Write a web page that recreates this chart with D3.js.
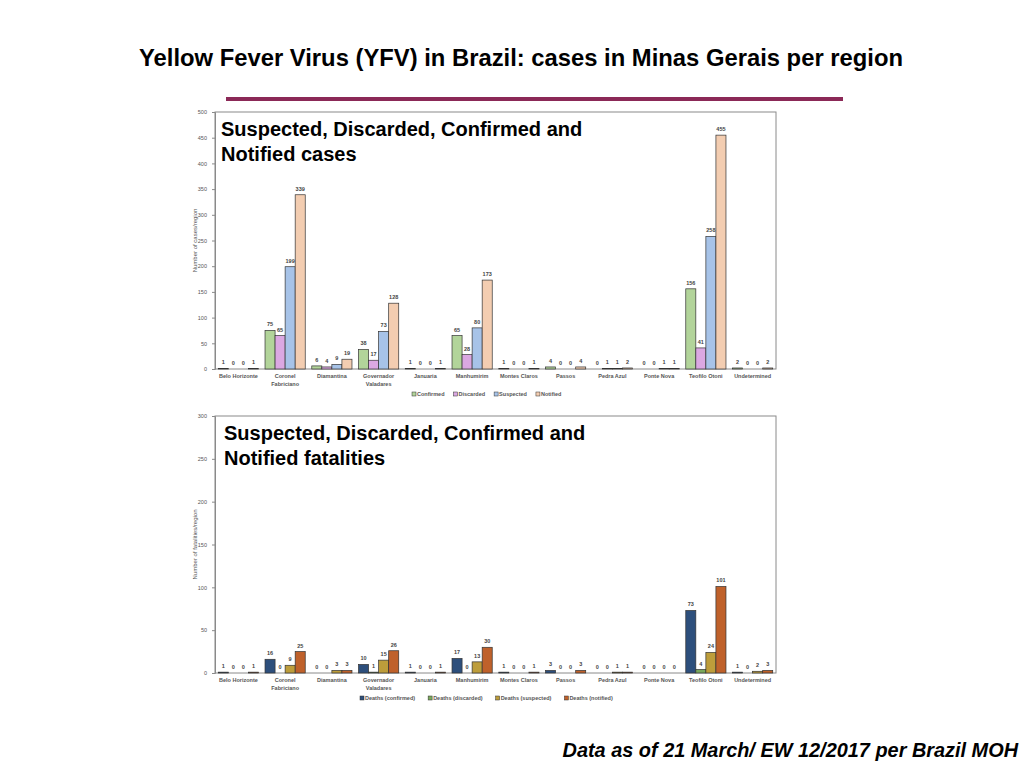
<!DOCTYPE html>
<html>
<head>
<meta charset="utf-8">
<script src="https://cdn.jsdelivr.net/npm/d3@7"></script>
<style>
  body { margin: 0; background: #fff; }
  svg { font-family: "Liberation Sans", Arial, sans-serif; }
</style>
</head>
<body>
<div id="chart"></div>
<script>
const regions = ["Belo Horizonte", "Coronel Fabriciano", "Diamantina", "Governador Valadares",
  "Januaria", "Manhumirim", "Montes Claros", "Passos", "Pedra Azul", "Ponte Nova",
  "Teofilo Otoni", "Undetermined"];
const regionLines = {"Coronel Fabriciano": ["Coronel", "Fabriciano"],
  "Governador Valadares": ["Governador", "Valadares"]};

const caseSeries = ["Confirmed", "Discarded", "Suspected", "Notified"];
const confirmed = [1, 75, 6, 38, 1, 65, 1, 4, 0, 0, 156, 2];
const discarded = [0, 65, 4, 17, 0, 28, 0, 0, 1, 0, 41, 0];
const suspected = [0, 199, 9, 73, 0, 80, 0, 0, 1, 1, 258, 0];
const notified = [1, 339, 19, 128, 1, 173, 1, 4, 2, 1, 455, 2];
const caseTicks = [0, 50, 100, 150, 200, 250, 300, 350, 400, 450, 500];

const deathSeries = ["Deaths (confirmed)", "Deaths (discarded)", "Deaths (suspected)", "Deaths (notified)"];
const deathsConfirmed = [1, 16, 0, 10, 1, 17, 1, 3, 0, 0, 73, 1];
const deathsDiscarded = [0, 0, 0, 1, 0, 0, 0, 0, 0, 0, 4, 0];
const deathsSuspected = [0, 9, 3, 15, 0, 13, 0, 0, 1, 0, 24, 2];
const deathsNotified = [1, 25, 3, 26, 1, 30, 1, 3, 1, 0, 101, 3];
const deathTicks = [0, 50, 100, 150, 200, 250, 300];

const svg = d3.select("#chart").append("svg")
    .attr("width", 1024)
    .attr("height", 768);

// page title, rule and footer
svg.append("text")
    .attr("x", 521).attr("y", 66)
    .attr("text-anchor", "middle")
    .attr("font-size", 23.8).attr("font-weight", "bold")
    .text("Yellow Fever Virus (YFV) in Brazil: cases in Minas Gerais per region");

svg.append("rect")
    .attr("x", 226).attr("y", 97)
    .attr("width", 617).attr("height", 4)
    .attr("fill", "#8b2957");

svg.append("text")
    .attr("x", 1018).attr("y", 757)
    .attr("text-anchor", "end")
    .attr("font-size", 19.9).attr("font-weight", "bold").attr("font-style", "italic")
    .text("Data as of 21 March/ EW 12/2017 per Brazil MOH");

function drawPanel(opts) {
    const left = 215, right = 776, top = opts.top, bottom = opts.top + 257;

    const x = d3.scaleBand().domain(regions).range([left, right]).paddingInner(0.14).paddingOuter(0.07);
    const xs = d3.scaleBand().domain(opts.series).range([0, x.bandwidth()]);
    const y = d3.scaleLinear().domain([0, opts.max]).range([bottom, top]);

    const g = svg.append("g");

    // frame
    g.append("rect")
        .attr("x", left).attr("y", top)
        .attr("width", right - left).attr("height", bottom - top)
        .attr("fill", "none").attr("stroke", "#8a8a8a").attr("stroke-width", 1);

    const yAxis = g.append("g")
        .attr("transform", `translate(${left},0)`)
        .call(d3.axisLeft(y).tickValues(opts.ticks).tickSize(3).tickPadding(5));
    yAxis.select(".domain").attr("stroke", "#8a8a8a");
    yAxis.selectAll(".tick line").attr("stroke", "#8a8a8a");
    yAxis.selectAll(".tick text").attr("font-size", 5.5).attr("fill", "#555");

    g.append("text")
        .attr("transform", `translate(197,${(top + bottom) / 2}) rotate(-90)`)
        .attr("text-anchor", "middle")
        .attr("font-size", 6).attr("fill", "#555")
        .text(opts.yLabel);

    // inner heading
    opts.heading.forEach((line, i) => {
        g.append("text")
            .attr("x", opts.headX).attr("y", top + 24 + i * 25)
            .attr("font-size", 20).attr("font-weight", "bold")
            .text(line);
    });

    // bars
    const groups = g.selectAll(".region")
        .data(regions.map((r, i) => ({region: r, values: opts.values.map(v => v[i])})))
        .enter().append("g")
        .attr("transform", d => `translate(${x(d.region)},0)`);

    groups.selectAll("rect")
        .data(d => d.values.map((v, k) => ({key: opts.series[k], value: v, k})))
        .enter().append("rect")
        .attr("x", d => xs(d.key))
        .attr("y", d => y(d.value))
        .attr("width", xs.bandwidth())
        .attr("height", d => bottom - y(d.value))
        .attr("fill", d => opts.colors[d.k])
        .attr("stroke", "#333")
        .attr("stroke-width", 0.7);

    groups.selectAll("text")
        .data(d => d.values.map((v, k) => ({key: opts.series[k], value: v})))
        .enter().append("text")
        .attr("x", d => xs(d.key) + xs.bandwidth() / 2)
        .attr("y", d => y(d.value) - 4)
        .attr("text-anchor", "middle")
        .attr("font-size", 5.5).attr("font-weight", "bold").attr("fill", "#444")
        .text(d => d.value);

    // category labels
    regions.forEach(r => {
        const lines = regionLines[r] || [r];
        lines.forEach((line, i) => {
            g.append("text")
                .attr("x", x(r) + x.bandwidth() / 2)
                .attr("y", bottom + 9 + i * 7.5)
                .attr("text-anchor", "middle")
                .attr("font-size", 5.5).attr("font-weight", "bold").attr("fill", "#555")
                .text(line);
        });
    });

    // legend
    const legend = g.append("g").attr("transform", `translate(${opts.legendX},${bottom + 27})`);
    let lx = 0;
    opts.series.forEach((s, k) => {
        legend.append("rect")
            .attr("x", lx).attr("y", -4)
            .attr("width", 4).attr("height", 4)
            .attr("fill", opts.colors[k]).attr("stroke", "#333").attr("stroke-width", 0.5);
        const t = legend.append("text")
            .attr("x", lx + 5).attr("y", 0)
            .attr("font-size", 5.5).attr("font-weight", "bold").attr("fill", "#555")
            .text(s);
        lx += t.node().getComputedTextLength() + opts.legendGap;
    });
}

drawPanel({
    top: 112, max: 500, ticks: caseTicks,
    series: caseSeries,
    values: [confirmed, discarded, suspected, notified],
    colors: ["#b2d49a", "#dba8e2", "#a7c3e8", "#f3cdb1"],
    yLabel: "Number of cases/region",
    heading: ["Suspected, Discarded, Confirmed and", "Notified cases"],
    headX: 221, legendX: 412, legendGap: 14
});

drawPanel({
    top: 416, max: 300, ticks: deathTicks,
    series: deathSeries,
    values: [deathsConfirmed, deathsDiscarded, deathsSuspected, deathsNotified],
    colors: ["#2d4f7c", "#7aa95c", "#bd9d3b", "#bf612b"],
    yLabel: "Number of fatalities/region",
    heading: ["Suspected, Discarded, Confirmed and", "Notified fatalities"],
    headX: 224, legendX: 360, legendGap: 18
});
</script>
</body>
</html>
